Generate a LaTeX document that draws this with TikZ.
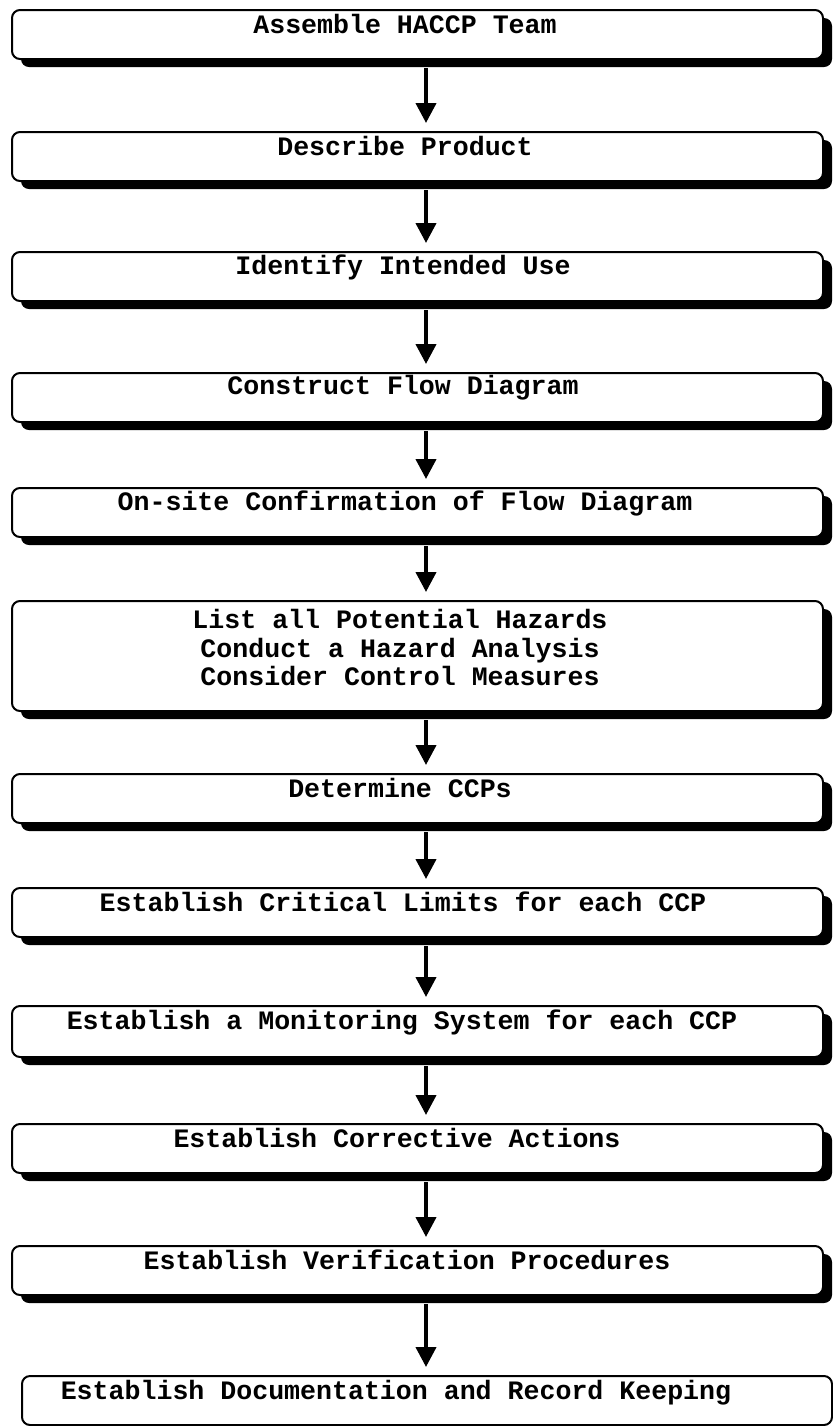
\documentclass[tikz,border=0pt]{standalone}
\usepackage{fontspec}
\setmonofont{Liberation Mono}
\usetikzlibrary{arrows.meta,shadows,calc}
\begin{document}
\begin{tikzpicture}[x=0.5pt,y=-0.5pt,
  stepbox/.style={draw=black, line width=1pt, rounded corners=4pt, fill=white,
    minimum width=405.5pt, minimum height=24.5pt, anchor=north, inner sep=0pt,
    drop shadow={shadow xshift=4.5pt, shadow yshift=-4pt, opacity=1, fill=black}},
  lastbox/.style={draw=black, line width=1pt, rounded corners=4pt, fill=white,
    minimum width=405pt, minimum height=24.5pt, anchor=north, inner sep=0pt},
  lbl/.style={font=\ttfamily\bfseries\fontsize{13.3}{14.35}\selectfont, anchor=base, inner sep=0pt},
  flow/.style={line width=2pt, -{Triangle[width=10pt,length=10pt]}}]
\useasboundingbox (0,0) rectangle (833,1426);
\fill[white] (0,0) rectangle (833,1426);

\node[stepbox] (b1) at (417.5,9) {};
\node[stepbox] (b2) at (417.5,131) {};
\node[stepbox] (b3) at (417.5,251) {};
\node[stepbox] (b4) at (417.5,372) {};
\node[stepbox] (b5) at (417.5,487) {};
\node[stepbox, minimum height=55pt] (b6) at (417.5,600) {};
\node[stepbox] (b7) at (417.5,773) {};
\node[stepbox] (b8) at (417.5,887) {};
\node[stepbox, minimum height=25.5pt] (b9) at (417.5,1005) {};
\node[stepbox] (b10) at (417.5,1123) {};
\node[stepbox] (b11) at (417.5,1245) {};
\node[lastbox] (b12) at (427,1375) {};

\node[lbl] (t1) at (405,33) {Assemble HACCP Team};
\node[lbl] (t2) at (405,155) {Describe Product};
\node[lbl] (t3) at (403,274) {Identify Intended Use};
\node[lbl] (t4) at (403,394) {Construct Flow Diagram};
\node[lbl] (t5) at (405,510) {On-site Confirmation of Flow Diagram};
\node[lbl] (t6a) at (400,628) {List all Potential Hazards};
\node[lbl] (t6b) at (400,657) {Conduct a Hazard Analysis};
\node[lbl] (t6c) at (400,685) {Consider Control Measures};
\node[lbl] (t7) at (400,797) {Determine CCPs};
\node[lbl] (t8) at (403,911) {Establish Critical Limits for each CCP};
\node[lbl] (t9) at (402,1029) {Establish a Monitoring System for each CCP};
\node[lbl] (t10) at (397,1147) {Establish Corrective Actions};
\node[lbl] (t11) at (407,1269) {Establish Verification Procedures};
\node[lbl] (t12) at (396,1399) {Establish Documentation and Record Keeping};

\foreach \a/\b in {b1/b2,b2/b3,b3/b4,b4/b5,b5/b6,b6/b7,b7/b8,b8/b9,b9/b10,b10/b11}
  \draw[flow] ($(\a.south)+(8.5,8)$) -- ($(\b.north)+(8.5,-8)$);
\draw[flow] ($(b11.south)+(8.5,8)$) -- ($(b12.north)+(-1,-8)$);
\end{tikzpicture}
\end{document}
